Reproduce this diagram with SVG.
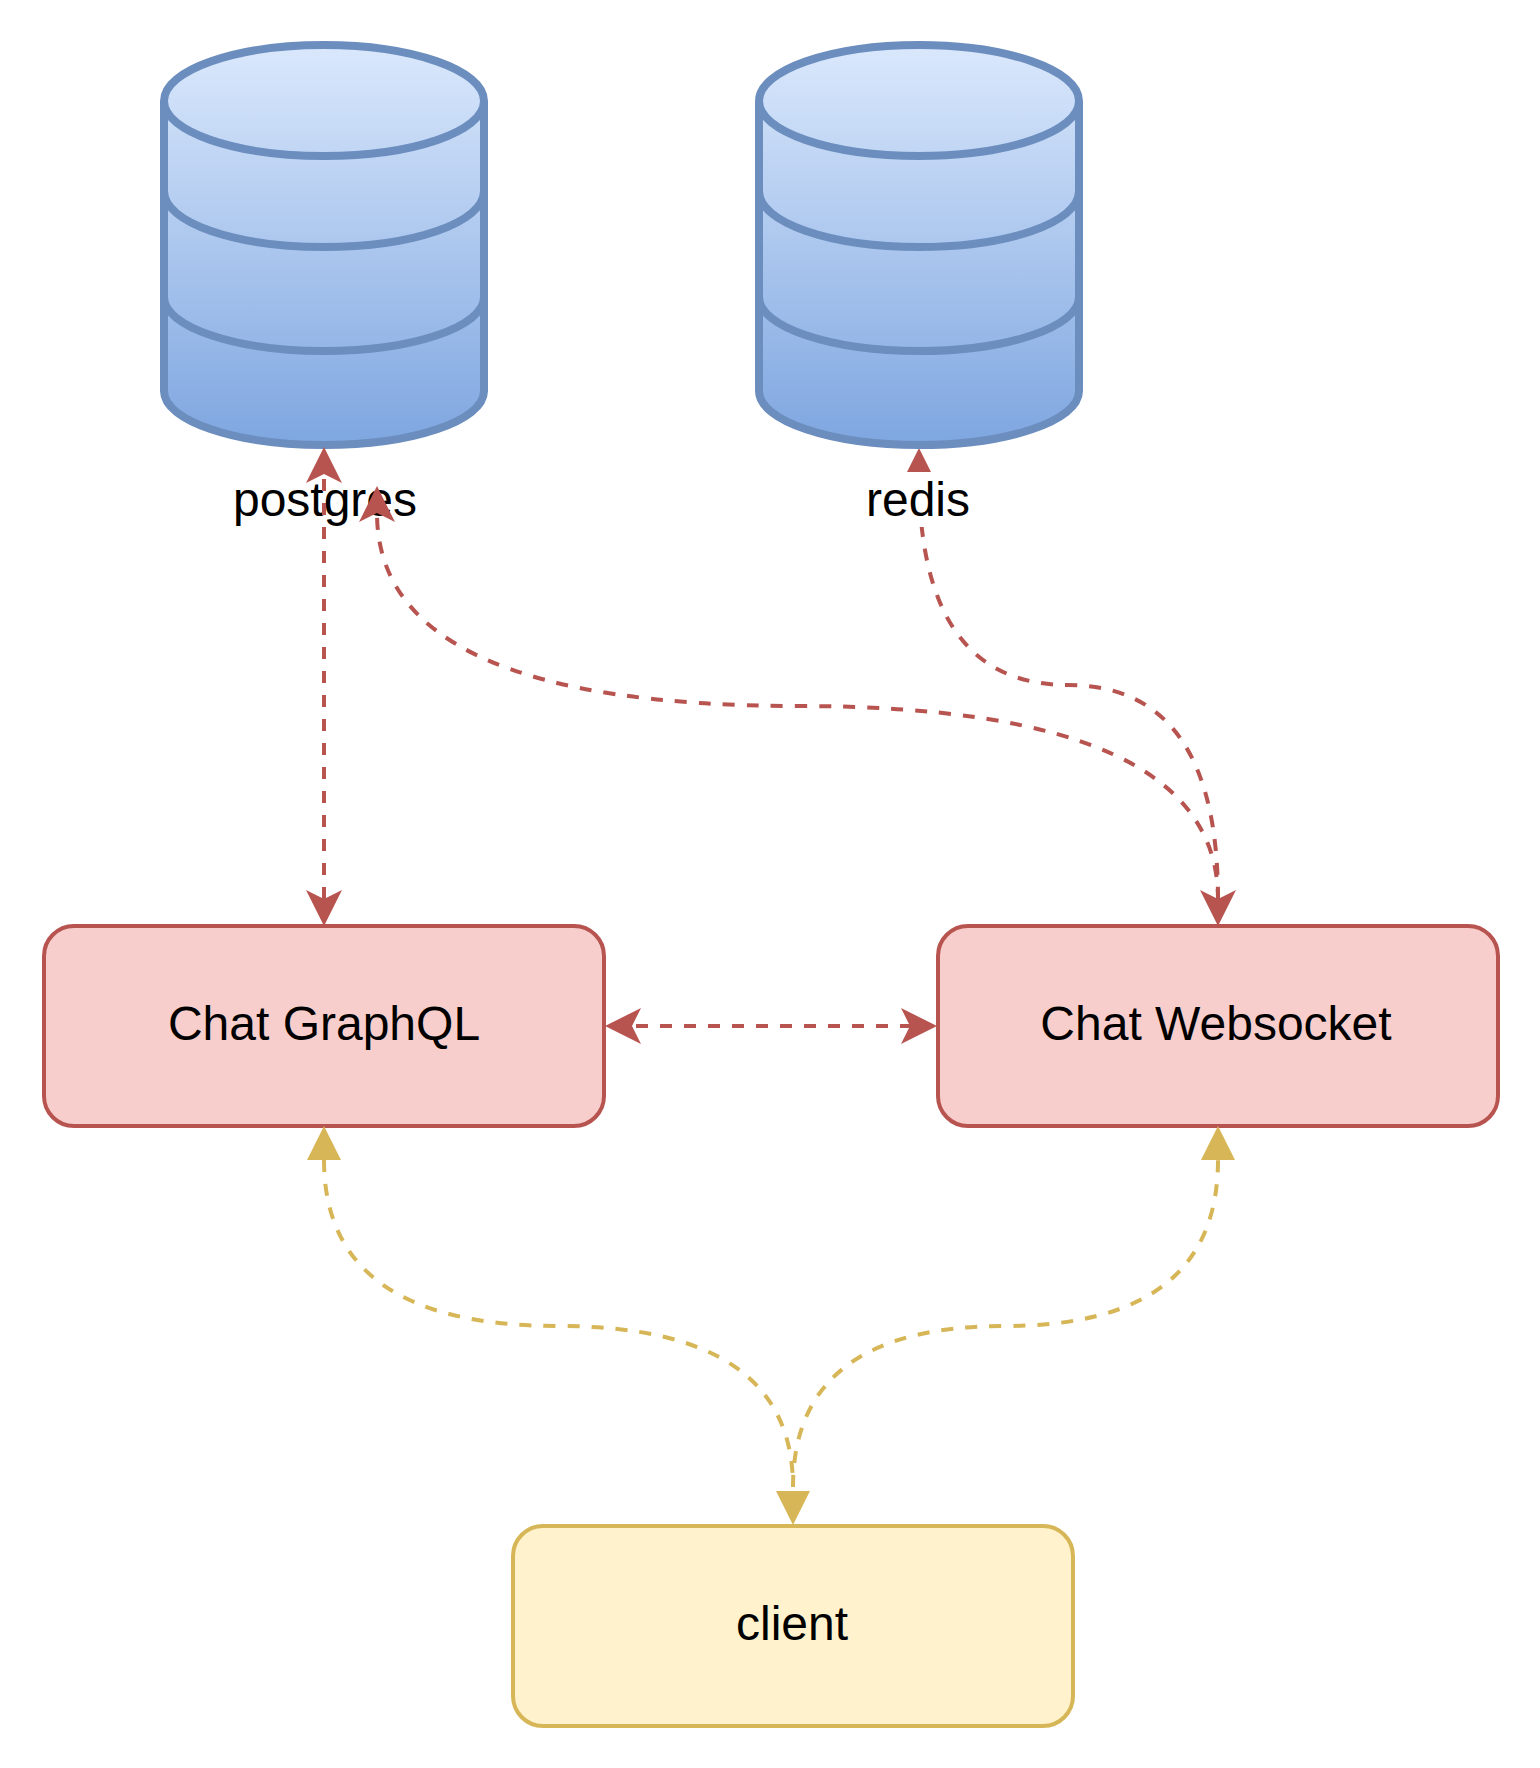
<svg xmlns="http://www.w3.org/2000/svg" width="1540" height="1768" viewBox="0 0 1540 1768">
<style>
text{font-family:"Liberation Sans",Arial,sans-serif;fill:#000;text-anchor:middle}
.lbl{font-size:48px}
.db{fill:url(#g);stroke:#6c8ebf;stroke-width:8}
.dbl{fill:none;stroke:#6c8ebf;stroke-width:8}
.box{stroke-width:4}
.red{fill:#f8cecc;stroke:#b85450}
.yel{fill:#fff2cc;stroke:#d6b656}
.c{fill:none;stroke-width:4;stroke-dasharray:12 12}
.cr{stroke:#b85450}.cy{stroke:#d6b656}
.hr{fill:#b85450}.hy{fill:#d6b656}
</style>
<defs>
<linearGradient id="g" x1="0" y1="0" x2="0" y2="1"><stop offset="0" stop-color="#dae8fc"/><stop offset="1" stop-color="#7ea6e0"/></linearGradient>
<path id="cyl" class="db" d="M0 56C0 25 72 0 160 0S320 25 320 56V346C320 376 248 400 160 400S0 376 0 346Z"/>
<path id="cyll" class="dbl" d="M0 56C0 87 72 111 160 111S320 87 320 56M0 146C0 178 72 202 160 202S320 178 320 146M0 252C0 282 72 306 160 306S320 282 320 252"/>
<path id="cl" d="M0 0L18 36L0 27L-18 36Z"/>
<path id="bl" d="M0 0L17 34H-17Z"/>
</defs>
<g id="postgres"><use href="#cyl" x="164" y="45"/><use href="#cyll" x="164" y="45"/><text class="lbl" x="325" y="516">postgres</text></g>
<g id="graphql"><rect class="box red" x="44" y="926" width="560" height="200" rx="30"/><text class="lbl" x="324" y="1040">Chat GraphQL</text></g>
<g id="websocket"><rect class="box red" x="938" y="926" width="560" height="200" rx="30"/><text class="lbl" x="1216" y="1040">Chat Websocket</text></g>
<g id="client"><rect class="box yel" x="513" y="1526" width="560" height="200" rx="30"/><text class="lbl" x="792" y="1640">client</text></g>
<g id="connectors">
<path class="c cr" d="M324 899V475"/>
<path class="c cr" stroke-dashoffset="2" d="M1218 899Q1218 706 798 706Q377 706 377 513"/>
<path class="c cr" d="M1218 899Q1218 685 1068 685Q919 685 919 474"/>
<path class="c cr" d="M636 1026H915"/>
<path class="c cy" stroke-dashoffset="10" d="M793 1487Q793 1326 558 1326Q324 1326 324 1160"/>
<path class="c cy" d="M793 1487Q793 1326 1005 1326Q1218 1326 1218 1160"/>
<use class="hr" href="#cl" transform="translate(324 447)"/>
<use class="hr" href="#cl" transform="translate(377 486)"/>
<use class="hr" href="#cl" transform="translate(919 448)"/>
<use class="hr" href="#cl" transform="translate(324 926) rotate(180)"/>
<use class="hr" href="#cl" transform="translate(1218 926) rotate(180)"/>
<use class="hr" href="#cl" transform="translate(605 1026) rotate(-90)"/>
<use class="hr" href="#cl" transform="translate(937 1026) rotate(90)"/>
<use class="hy" href="#bl" transform="translate(324 1126)"/>
<use class="hy" href="#bl" transform="translate(1218 1126)"/>
<use class="hy" href="#bl" transform="translate(793 1525) rotate(180)"/>
</g>
<g id="redis"><use href="#cyl" x="759" y="45"/><use href="#cyll" x="759" y="45"/><rect x="860" y="472" width="118" height="55" fill="#fff"/><text class="lbl" x="918" y="516">redis</text></g>
</svg>
